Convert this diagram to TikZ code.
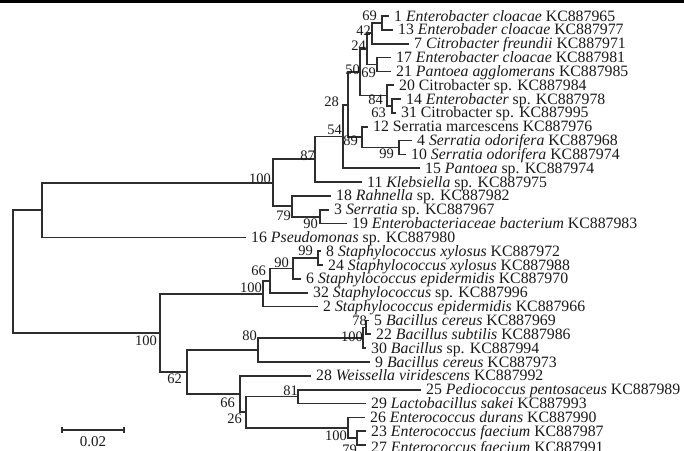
\documentclass[tikz,border=0pt]{standalone}
\usepackage{fontspec}
\setmainfont{Liberation Serif}
\begin{document}
\begin{tikzpicture}[x=1pt,y=-1pt]
\tikzset{
 br/.style={line width=1.7pt, draw=black!82},
 taxon/.style={anchor=base west, inner sep=0pt, font=\fontsize{15.8}{16}\selectfont, text=black!90},
 boot/.style={anchor=base east, inner sep=0pt, font=\fontsize{14.5}{15}\selectfont, text=black!90},
}
\useasboundingbox (0,0) rectangle (684,450);
\fill[black] (0,0) rectangle (684,3);
% leaf ends
\coordinate (e1) at (389,16.00);
\coordinate (e13) at (393,29.84);
\coordinate (e7) at (409,43.68);
\coordinate (e17) at (391,57.52);
\coordinate (e21) at (391,71.36);
\coordinate (e20) at (394,85.20);
\coordinate (e14) at (401,99.04);
\coordinate (e31) at (396,112.88);
\coordinate (e12) at (368,126.72);
\coordinate (e4) at (412,140.56);
\coordinate (e10) at (406,154.40);
\coordinate (e15) at (420,168.24);
\coordinate (e11) at (362,182.08);
\coordinate (e18) at (331,195.92);
\coordinate (e3) at (329,209.76);
\coordinate (e19) at (347,223.60);
\coordinate (e16) at (246,237.44);
\coordinate (e8) at (321,251.28);
\coordinate (e24) at (323,265.12);
\coordinate (e6) at (301,278.96);
\coordinate (e32) at (308,292.80);
\coordinate (e2) at (318,306.64);
\coordinate (e5) at (369,320.48);
\coordinate (e22) at (371,334.32);
\coordinate (e30) at (366,348.16);
\coordinate (e9) at (370,362.00);
\coordinate (e28) at (311,375.84);
\coordinate (e25) at (421,389.68);
\coordinate (e29) at (366,403.52);
\coordinate (e26) at (365,417.36);
\coordinate (e23) at (366,431.20);
\coordinate (e27) at (366,445.04);
% internal nodes
\coordinate (nA) at (382,22.92);
\coordinate (nB) at (372,33.30);
\coordinate (nC) at (377,64.44);
\coordinate (nD) at (367,48.87);
\coordinate (nE) at (392,105.96);
\coordinate (nF) at (387,95.58);
\coordinate (nG) at (360,72.23);
\coordinate (nH) at (399,147.48);
\coordinate (nI) at (362,137.10);
\coordinate (nJ) at (348,104.67);
\coordinate (nK) at (343,136.45);
\coordinate (nL) at (315,159.27);
\coordinate (nM) at (320,216.68);
\coordinate (nN) at (292,206.30);
\coordinate (nO) at (273,182.78);
\coordinate (nP) at (42,210.11);
\coordinate (nQ) at (318,258.20);
\coordinate (nR) at (293,268.58);
\coordinate (nS) at (270,280.69);
\coordinate (nT) at (263,293.67);
\coordinate (nU) at (366,327.40);
\coordinate (nV) at (363,337.78);
\coordinate (nW) at (258,349.89);
\coordinate (nX) at (357,438.12);
\coordinate (nY) at (348,427.74);
\coordinate (nZ) at (298,396.60);
\coordinate (nAA) at (246,412.17);
\coordinate (nAB) at (240,394.00);
\coordinate (nAC) at (187,371.95);
\coordinate (nAD) at (160,332.81);
\coordinate (root) at (13,271.46);
% branches
\draw[br] (nA) |- (e1); \draw[br] (nA) |- (e13);
\draw[br] (nB) |- (nA); \draw[br] (nB) |- (e7);
\draw[br] (nC) |- (e17); \draw[br] (nC) |- (e21);
\draw[br] (nD) |- (nB); \draw[br] (nD) |- (nC);
\draw[br] (nE) |- (e14); \draw[br] (nE) |- (e31);
\draw[br] (nF) |- (e20); \draw[br] (nF) |- (nE);
\draw[br] (nG) |- (nD); \draw[br] (nG) |- (nF);
\draw[br] (nH) |- (e4); \draw[br] (nH) |- (e10);
\draw[br] (nI) |- (e12); \draw[br] (nI) |- (nH);
\draw[br] (nJ) |- (nG); \draw[br] (nJ) |- (nI);
\draw[br] (nK) |- (nJ); \draw[br] (nK) |- (e15);
\draw[br] (nL) |- (nK); \draw[br] (nL) |- (e11);
\draw[br] (nM) |- (e3); \draw[br] (nM) |- (e19);
\draw[br] (nN) |- (e18); \draw[br] (nN) |- (nM);
\draw[br] (nO) |- (nL); \draw[br] (nO) |- (nN);
\draw[br] (nP) |- (nO); \draw[br] (nP) |- (e16);
\draw[br] (nQ) |- (e8); \draw[br] (nQ) |- (e24);
\draw[br] (nR) |- (nQ); \draw[br] (nR) |- (e6);
\draw[br] (nS) |- (nR); \draw[br] (nS) |- (e32);
\draw[br] (nT) |- (nS); \draw[br] (nT) |- (e2);
\draw[br] (nU) |- (e5); \draw[br] (nU) |- (e22);
\draw[br] (nV) |- (nU); \draw[br] (nV) |- (e30);
\draw[br] (nW) |- (nV); \draw[br] (nW) |- (e9);
\draw[br] (nX) |- (e23); \draw[br] (nX) |- (e27);
\draw[br] (nY) |- (e26); \draw[br] (nY) |- (nX);
\draw[br] (nZ) |- (e25); \draw[br] (nZ) |- (e29);
\draw[br] (nAA) |- (nZ); \draw[br] (nAA) |- (nY);
\draw[br] (nAB) |- (e28); \draw[br] (nAB) |- (nAA);
\draw[br] (nAC) |- (nW); \draw[br] (nAC) |- (nAB);
\draw[br] (nAD) |- (nT); \draw[br] (nAD) |- (nAC);
\draw[br] (root) |- (nP); \draw[br] (root) |- (nAD);
% taxa
\node[taxon] (t1) at ([xshift=5pt,yshift=-5pt]e1) {1 \textit{Enterobacter cloacae} KC887965};
\node[taxon] (t13) at ([xshift=5pt,yshift=-5pt]e13) {13 \textit{Enterobader cloacae} KC887977};
\node[taxon] (t7) at ([xshift=5pt,yshift=-5pt]e7) {7 \textit{Citrobacter freundii} KC887971};
\node[taxon] (t17) at ([xshift=5pt,yshift=-5pt]e17) {17 \textit{Enterobacter cloacae} KC887981};
\node[taxon] (t21) at ([xshift=5pt,yshift=-5pt]e21) {21 \textit{Pantoea agglomerans} KC887985};
\node[taxon] (t20) at ([xshift=5pt,yshift=-5pt]e20) {20 Citrobacter sp. KC887984};
\node[taxon] (t14) at ([xshift=5pt,yshift=-5pt]e14) {14 \textit{Enterobacter} sp. KC887978};
\node[taxon] (t31) at ([xshift=5pt,yshift=-5pt]e31) {31 Citrobacter sp. KC887995};
\node[taxon] (t12) at ([xshift=5pt,yshift=-5pt]e12) {12 Serratia marcescens KC887976};
\node[taxon] (t4) at ([xshift=5pt,yshift=-5pt]e4) {4 \textit{Serratia odorifera} KC887968};
\node[taxon] (t10) at ([xshift=5pt,yshift=-5pt]e10) {10 \textit{Serratia odorifera} KC887974};
\node[taxon] (t15) at ([xshift=5pt,yshift=-5pt]e15) {15 \textit{Pantoea} sp. KC887974};
\node[taxon] (t11) at ([xshift=5pt,yshift=-5pt]e11) {11 \textit{Klebsiella} sp. KC887975};
\node[taxon] (t18) at ([xshift=5pt,yshift=-5pt]e18) {18 \textit{Rahnella} sp. KC887982};
\node[taxon] (t3) at ([xshift=5pt,yshift=-5pt]e3) {3 \textit{Serratia} sp. KC887967};
\node[taxon] (t19) at ([xshift=5pt,yshift=-5pt]e19) {19 \textit{Enterobacteriaceae bacterium} KC887983};
\node[taxon] (t16) at ([xshift=5pt,yshift=-5pt]e16) {16 \textit{Pseudomonas} sp. KC887980};
\node[taxon] (t8) at ([xshift=5pt,yshift=-5pt]e8) {8 \textit{Staphylococcus xylosus} KC887972};
\node[taxon] (t24) at ([xshift=5pt,yshift=-5pt]e24) {24 \textit{Staphylococcus xylosus} KC887988};
\node[taxon] (t6) at ([xshift=5pt,yshift=-5pt]e6) {6 \textit{Staphylococcus epidermidis} KC887970};
\node[taxon] (t32) at ([xshift=5pt,yshift=-5pt]e32) {32 \textit{Staphylococcus} sp. KC887996};
\node[taxon] (t2) at ([xshift=5pt,yshift=-5pt]e2) {2 \textit{Staphylococcus epidermidis} KC887966};
\node[taxon] (t5) at ([xshift=5pt,yshift=-5pt]e5) {5 \textit{Bacillus cereus} KC887969};
\node[taxon] (t22) at ([xshift=5pt,yshift=-5pt]e22) {22 \textit{Bacillus subtilis} KC887986};
\node[taxon] (t30) at ([xshift=5pt,yshift=-5pt]e30) {30 \textit{Bacillus} sp. KC887994};
\node[taxon] (t9) at ([xshift=5pt,yshift=-5pt]e9) {9 \textit{Bacillus cereus} KC887973};
\node[taxon] (t28) at ([xshift=5pt,yshift=-5pt]e28) {28 \textit{Weissella viridescens} KC887992};
\node[taxon] (t25) at ([xshift=5pt,yshift=-5pt]e25) {25 \textit{Pediococcus pentosaceus} KC887989};
\node[taxon] (t29) at ([xshift=5pt,yshift=-5pt]e29) {29 \textit{Lactobacillus sakei} KC887993};
\node[taxon] (t26) at ([xshift=5pt,yshift=-5pt]e26) {26 \textit{Enterococcus durans} KC887990};
\node[taxon] (t23) at ([xshift=5pt,yshift=-5pt]e23) {23 \textit{Enterococcus faecium} KC887987};
\node[taxon] (t27) at ([xshift=5pt,yshift=-7pt]e27) {27 \textit{Enterococcus faecium} KC887991};
% bootstrap values
\node[boot] (bA) at (377,20) {69};
\node[boot] (bB) at (371,35) {42};
\node[boot] (bD) at (366,50) {24};
\node[boot] (bG) at (360,74) {50};
\node[boot] (bC) at (376,77) {69};
\node[boot] (bJ) at (339,106) {28};
\node[boot] (bF) at (383,104) {84};
\node[boot] (bE) at (386,117) {63};
\node[boot] (bK) at (342,134) {54};
\node[boot] (bI) at (358,145) {89};
\node[boot] (bH) at (394,158) {99};
\node[boot] (bL) at (315,160) {87};
\node[boot] (bO) at (271,183) {100};
\node[boot] (bN) at (291,220) {79};
\node[boot] (bM) at (318,228) {90};
\node[boot] (bQ) at (313,255) {99};
\node[boot] (bR) at (289,267) {90};
\node[boot] (bS) at (266,275) {66};
\node[boot] (bT) at (262,292) {100};
\node[boot] (bU) at (367,325) {78};
\node[boot] (bV) at (363,341) {100};
\node[boot] (bW) at (257,340) {80};
\node[boot] (bAD) at (157,345) {100};
\node[boot] (bAC) at (182,383) {62};
\node[boot] (bAB) at (235,407) {66};
\node[boot] (bAA) at (242,423) {26};
\node[boot] (bZ) at (298,395) {81};
\node[boot] (bY) at (347,440) {100};
\node[boot] (bX) at (357,454) {79};
% scale bar
\coordinate (s1) at (62,430);
\coordinate (s2) at (124,430);
\draw[br, line width=1.3pt] (s1) -- (s2);
\draw[br, line width=1.3pt] ([yshift=-3pt]s1) -- ([yshift=3pt]s1);
\draw[br, line width=1.3pt] ([yshift=-3pt]s2) -- ([yshift=3pt]s2);
\node[anchor=base, inner sep=0pt, font=\fontsize{15}{15}\selectfont, text=black!90] (sbl) at (93,446) {0.02};
\end{tikzpicture}
\end{document}
